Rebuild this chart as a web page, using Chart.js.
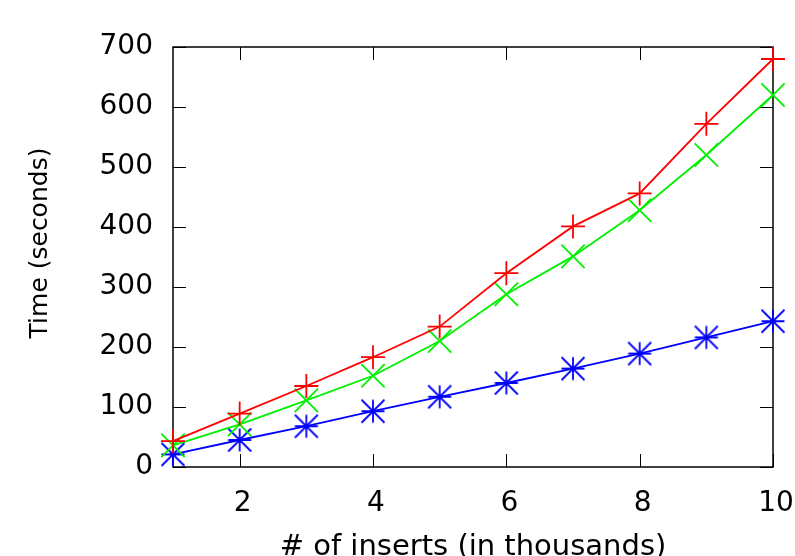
<!DOCTYPE html>
<html>
<head>
<meta charset="utf-8">
<script src="https://cdn.jsdelivr.net/npm/chart.js@4.4.1/dist/chart.umd.min.js"></script>
<style>
  html, body { margin: 0; padding: 0; background: #fff; }
  #wrap { width: 795px; height: 556px; }
</style>
</head>
<body>
<div id="wrap"><canvas id="myChart" width="795" height="556"></canvas></div>
<script>
// ++++++++++++++++++++++++ DATA ++++++++++++++++++++++++
var inserts = [1, 2, 3, 4, 5, 6, 7, 8, 9, 10];
var timesRed = [43, 89, 135, 183, 234, 323, 401, 456, 572, 680];
var timesGreen = [36, 71, 111, 152, 210, 288, 351, 428, 520, 620];
var timesBlue = [21, 45, 68, 93, 117, 140, 164, 189, 216, 243];

var xTickValues = [2, 4, 6, 8, 10];
var yTickValues = [0, 100, 200, 300, 400, 500, 600, 700];

var FONT = 'DejaVu Sans';
var TICK_LEN = 13;
var LW = 1.8;

function toPoints(ys) {
    return inserts.map(function(x, i) { return {x: x, y: ys[i]}; });
}

// gnuplot style asterisk (+ and x in the same box)
function makeAsterisk(color) {
    var c = document.createElement('canvas');
    c.width = 26; c.height = 26;
    var g = c.getContext('2d');
    g.strokeStyle = color;
    g.lineWidth = LW;
    g.beginPath();
    g.moveTo(1.5, 13); g.lineTo(24.5, 13);
    g.moveTo(13, 1.5); g.lineTo(13, 24.5);
    g.moveTo(1.5, 1.5); g.lineTo(24.5, 24.5);
    g.moveTo(24.5, 1.5); g.lineTo(1.5, 24.5);
    g.stroke();
    return c;
}

// frame + inward ticks on all four sides
var framePlugin = {
    id: 'frame',
    beforeDatasetsDraw: function(chart) {
        var ctx = chart.ctx, a = chart.chartArea;
        var xs = chart.scales.x, ys = chart.scales.y;
        ctx.save();
        ctx.strokeStyle = '#000';
        ctx.lineWidth = 1;
        ctx.beginPath();
        yTickValues.forEach(function(v) {
            var py = Math.round(ys.getPixelForValue(v)) + 0.5;
            ctx.moveTo(a.left, py); ctx.lineTo(a.left + TICK_LEN, py);
            ctx.moveTo(a.right, py); ctx.lineTo(a.right - TICK_LEN, py);
        });
        xTickValues.forEach(function(v) {
            var px = Math.round(xs.getPixelForValue(v)) + 0.5;
            ctx.moveTo(px, a.bottom); ctx.lineTo(px, a.bottom - TICK_LEN);
            ctx.moveTo(px, a.top); ctx.lineTo(px, a.top + TICK_LEN);
        });
        ctx.stroke();
        ctx.lineWidth = 1.5;
        ctx.strokeRect(a.left, a.top, a.right - a.left, a.bottom - a.top);
        ctx.restore();
    },
    afterDraw: function(chart) {
        var ctx = chart.ctx, a = chart.chartArea;
        ctx.save();
        ctx.translate(40, (a.top + a.bottom) / 2 - 14);
        ctx.rotate(-Math.PI / 2);
        ctx.font = '25px "' + FONT + '"';
        ctx.fillStyle = '#000';
        ctx.textAlign = 'center';
        ctx.textBaseline = 'middle';
        ctx.fillText('Time (seconds)', 0, 0);
        ctx.restore();
    }
};

var canvas = document.getElementById('myChart').getContext('2d');
var myChart = new Chart(canvas, {
    type: 'line',
    data: {
        datasets: [
            {
                data: toPoints(timesRed),
                borderColor: '#ff0000',
                borderWidth: LW,
                pointStyle: 'cross',
                pointRadius: 12,
                pointBorderColor: '#ff0000',
                pointBorderWidth: LW,
                tension: 0,
                clip: false
            },
            {
                data: toPoints(timesGreen),
                borderColor: '#00f000',
                borderWidth: LW,
                pointStyle: 'crossRot',
                pointRadius: 16.5,
                pointBorderColor: '#00f000',
                pointBorderWidth: LW,
                tension: 0,
                clip: false
            },
            {
                data: toPoints(timesBlue),
                borderColor: '#0000ff',
                borderWidth: LW,
                pointStyle: makeAsterisk('#0000ff'),
                pointRadius: 12,
                tension: 0,
                clip: false
            }
        ]
    },
    options: {
        responsive: false,
        animation: false,
        devicePixelRatio: 1,
        layout: { padding: { top: 47, right: 22, left: 0, bottom: 0 } },
        plugins: {
            legend: { display: false },
            tooltip: { enabled: false }
        },
        scales: {
            x: {
                type: 'linear',
                min: 1,
                max: 10,
                grid: { display: false, drawTicks: true, tickLength: 20 },
                border: { display: false },
                afterBuildTicks: function(s) {
                    s.ticks = xTickValues.map(function(v) { return {value: v}; });
                },
                afterFit: function(s) { s.height = 89; },
                ticks: {
                    padding: 0,
                    labelOffset: 3,
                    maxRotation: 0,
                    color: '#000',
                    font: { family: FONT, size: 28 }
                },
                title: {
                    display: true,
                    text: '# of inserts (in thousands)',
                    color: '#000',
                    padding: { top: 0, bottom: -6 },
                    font: { family: FONT, size: 29, lineHeight: 1 }
                }
            },
            y: {
                type: 'linear',
                min: 0,
                max: 700,
                grid: { display: false, drawTicks: true, tickLength: 20 },
                border: { display: false },
                afterBuildTicks: function(s) {
                    s.ticks = yTickValues.map(function(v) { return {value: v}; });
                },
                afterFit: function(s) { s.width = 173; },
                ticks: {
                    padding: 0,
                    color: '#000',
                    font: { family: FONT, size: 28 }
                }
            }
        }
    },
    plugins: [framePlugin]
});
</script>
</body>
</html>
